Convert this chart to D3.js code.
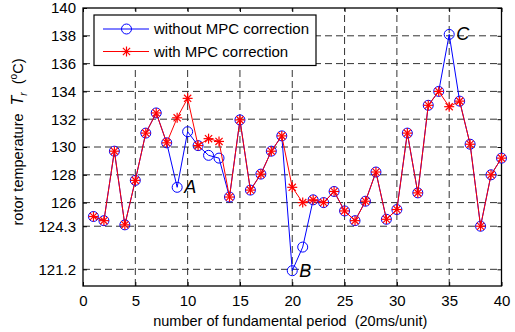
<!DOCTYPE html>
<html><head><meta charset="utf-8">
<script src="https://cdn.jsdelivr.net/npm/d3@7"></script>
<style>body{margin:0;background:#fff}svg{display:block}text{font-family:Arial,"Liberation Sans",sans-serif}</style>
</head><body>
<script>
const periods = d3.range(1, 41);
const withoutMPC = [125.0,124.7,129.7,124.4,127.6,131.0,132.45,130.3,127.1,131.1,130.1,129.4,129.2,126.4,131.95,126.9,128.05,129.7,130.8,121.1,122.8,126.2,126.0,126.8,125.4,124.7,126.1,128.2,124.8,125.5,131.0,126.7,133.0,134.0,138.1,133.3,130.2,124.3,128.0,129.2];
const withMPC    = [125.0,124.7,129.7,124.4,127.6,131.0,132.45,130.3,132.1,133.5,130.1,130.6,130.4,126.4,131.95,126.9,128.05,129.7,130.8,127.1,126.0,126.2,126.0,126.8,125.4,124.7,126.1,128.2,124.8,125.5,131.0,126.7,133.0,134.0,132.9,133.3,130.2,124.3,128.0,129.2];
const xTicks = [0,5,10,15,20,25,30,35,40];
const yTicks = [121.2,124.3,126,128,130,132,134,136,138,140];
const annotations = [{label:"A", x:9, y:127.1},{label:"B", x:20, y:121.1},{label:"C", x:35, y:138.1}];
const legendItems = ["without MPC correction","with MPC correction"];

const W=515,H=332, L=83, R=501.5, T=8, B=286;
const svg=d3.select("body").append("svg").attr("width",W).attr("height",H);
const x=d3.scaleLinear().domain([0,40]).range([L,R]);
const y=d3.scaleLinear().domain([120,140]).range([B,T]);

// grid
const grid=svg.append("g").attr("stroke","#333").attr("stroke-width",1).attr("stroke-dasharray","7,4");
xTicks.filter(t=>t>0&&t<40).forEach(t=>grid.append("line").attr("x1",x(t)).attr("x2",x(t)).attr("y1",B).attr("y2",T));
yTicks.filter(t=>t<140).forEach(t=>grid.append("line").attr("x1",L).attr("x2",R).attr("y1",y(t)).attr("y2",y(t)));

// axes
const fmt=d=>String(d);
svg.append("g").attr("transform",`translate(0,${B})`).call(d3.axisBottom(x).tickValues(xTicks).tickSizeInner(-4).tickSizeOuter(0).tickPadding(9).tickFormat(fmt));
svg.append("g").attr("transform",`translate(0,${T})`).call(d3.axisTop(x).tickValues(xTicks).tickSizeInner(-4).tickSizeOuter(0).tickFormat(""));
svg.append("g").attr("transform",`translate(${L},0)`).call(d3.axisLeft(y).tickValues(yTicks).tickSizeInner(-4).tickSizeOuter(0).tickPadding(7).tickFormat(fmt));
svg.append("g").attr("transform",`translate(${R},0)`).call(d3.axisRight(y).tickValues(yTicks).tickSizeInner(-4).tickSizeOuter(0).tickFormat(""));
svg.selectAll(".domain").remove();
svg.selectAll(".tick line").attr("stroke","#000");
svg.selectAll(".tick text").attr("font-size",15).attr("fill","#000").attr("font-family","Arial, 'Liberation Sans', sans-serif");
svg.append("rect").attr("x",L).attr("y",T).attr("width",R-L).attr("height",B-T).attr("fill","none").attr("stroke","#000").attr("stroke-width",1.3);

// series
const line=d3.line().x((d,i)=>x(periods[i])).y(d=>y(d));
const star=(g,cx,cy,s)=>{
  const p=g.append("g").attr("stroke","#f00").attr("stroke-width",1.2);
  p.append("line").attr("x1",cx-s).attr("x2",cx+s).attr("y1",cy).attr("y2",cy);
  p.append("line").attr("x1",cx).attr("x2",cx).attr("y1",cy-s).attr("y2",cy+s);
  const k=s*0.72;
  p.append("line").attr("x1",cx-k).attr("x2",cx+k).attr("y1",cy-k).attr("y2",cy+k);
  p.append("line").attr("x1",cx-k).attr("x2",cx+k).attr("y1",cy+k).attr("y2",cy-k);
};
svg.append("path").datum(withoutMPC).attr("d",line).attr("fill","none").attr("stroke","#00f").attr("stroke-width",1);
svg.append("g").selectAll("circle").data(withoutMPC).join("circle").attr("cx",(d,i)=>x(periods[i])).attr("cy",d=>y(d)).attr("r",5).attr("fill","none").attr("stroke","#00f").attr("stroke-width",1);
svg.append("path").datum(withMPC).attr("d",line).attr("fill","none").attr("stroke","#f00").attr("stroke-width",1);
const sg=svg.append("g");
withMPC.forEach((d,i)=>star(sg,x(periods[i]),y(d),5));

// annotations
annotations.forEach(a=>svg.append("text").attr("x",x(a.x)+7).attr("y",y(a.y)+6).attr("font-family","'Liberation Serif','Times New Roman',serif").attr("font-style","italic").attr("font-size",18).text(a.label));

// legend
const lg=svg.append("g");
lg.append("rect").attr("x",94).attr("y",15).attr("width",222).attr("height",50.5).attr("fill","#fff").attr("stroke","#000").attr("stroke-width",1.2);
[0,1].forEach(i=>{
  const yy=29+i*22.5;
  lg.append("line").attr("x1",103).attr("x2",149).attr("y1",yy).attr("y2",yy).attr("stroke",i?"#f00":"#00f");
  if(i) star(lg,126.5,yy,5); else lg.append("circle").attr("cx",126.5).attr("cy",yy).attr("r",5).attr("fill","none").attr("stroke","#00f");
  lg.append("text").attr("x",154).attr("y",yy+5).attr("font-size",15).text(legendItems[i]);
});

// axis labels
svg.append("text").attr("x",(L+R)/2-2).attr("y",326).attr("text-anchor","middle").attr("font-size",14.5).attr("xml:space","preserve").text("number of fundamental period  (20ms/unit)");
const yl=svg.append("text").attr("transform","translate(23,142) rotate(-90)").attr("text-anchor","middle").attr("font-size",14.5);
yl.append("tspan").text("rotor temperature\u00a0 ");
yl.append("tspan").attr("font-style","italic").attr("font-size",16).text("T");
yl.append("tspan").attr("font-style","italic").attr("font-size",10).attr("dy",4).text("r");
yl.append("tspan").attr("dy",-4).text("\u00a0 (");
yl.append("tspan").attr("font-size",10).attr("dy",-6).text("o");
yl.append("tspan").attr("dy",6).text("C)");
</script>
</body></html>
